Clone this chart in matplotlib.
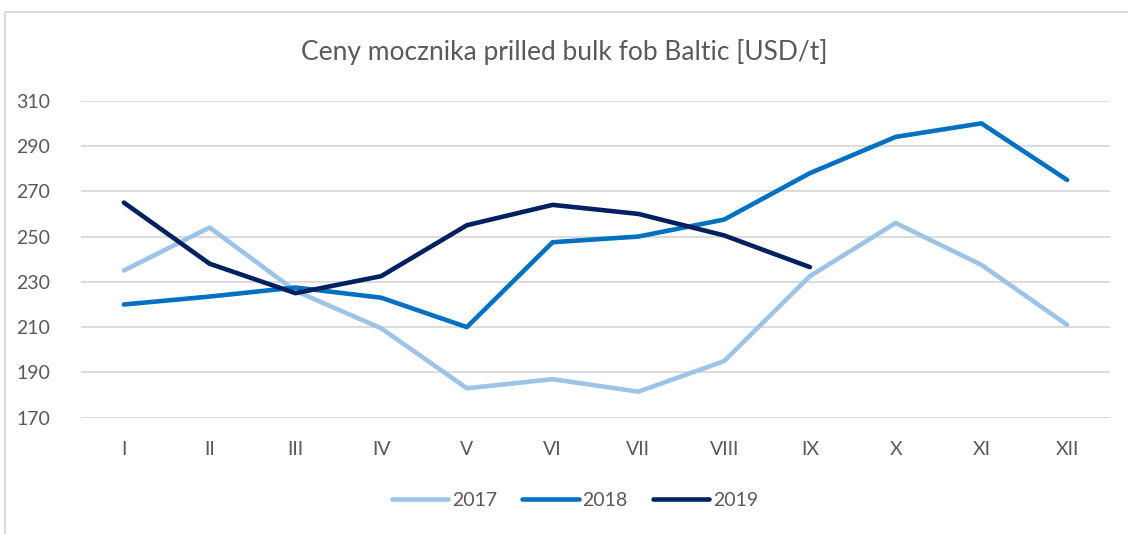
import numpy as np
import matplotlib.pyplot as plt
from matplotlib.lines import Line2D

plt.rcParams['font.family'] = ['Lato', 'DejaVu Sans']

months = ["I", "II", "III", "IV", "V", "VI", "VII", "VIII", "IX", "X", "XI", "XII"]
y2017 = [235, 254, 226, 209.5, 183, 187, 181.5, 195, 232.5, 256, 237.5, 211]
y2018 = [220, 223.5, 227.5, 223, 210, 247.5, 250, 257.5, 278, 294, 300, 275]
y2019 = [265, 238, 225, 232.5, 255, 264, 260, 250.5, 236.5]
yticks = [170, 190, 210, 230, 250, 270, 290, 310]

txt = "#595959"

fig = plt.figure(figsize=(11.28, 5.34), dpi=100)
ax = fig.add_axes([81/1128, 1-417.7/534, (1110-81)/1128, (417.7-100.7)/534])

x = np.arange(len(months))
ax.plot(x, y2017, color="#9DC3E6", lw=3.3, solid_capstyle="round", solid_joinstyle="round", label="2017")
ax.plot(x, y2018, color="#0070C0", lw=3.3, solid_capstyle="round", solid_joinstyle="round", label="2018")
ax.plot(np.arange(len(y2019)), y2019, color="#002060", lw=3.3, solid_capstyle="round", solid_joinstyle="round", label="2019")

ax.set_xlim(-0.5, 11.5)
ax.set_ylim(170, 310)
ax.set_yticks(yticks)
ax.set_xticks(x)
ax.set_xticklabels(months)
ax.grid(axis="y", color="#D9D9D9", lw=1.3)
ax.set_axisbelow(True)
for s in ax.spines.values():
    s.set_visible(False)
ax.tick_params(length=0, labelsize=14, colors=txt)
ax.tick_params(axis="y", pad=22)
ax.tick_params(axis="x", pad=17)

fig.text(0.5, 1-52/534, "Ceny mocznika prilled bulk fob Baltic [USD/t]", ha="center", va="center",
         fontsize=19, color=txt)

leg = fig.legend(loc="center", bbox_to_anchor=(575/1128, 1-500/534), ncol=3, frameon=False,
                 fontsize=14, handlelength=2.9, handletextpad=0.2, columnspacing=1.3)
for t in leg.get_texts():
    t.set_color(txt)

# chart frame
fig.add_artist(Line2D([5/1128, 5/1128], [0, 1-12/534], transform=fig.transFigure, color="#D9D9D9", lw=1.5))
fig.add_artist(Line2D([5/1128, 1], [1-12/534, 1-12/534], transform=fig.transFigure, color="#D9D9D9", lw=1.5))

fig.savefig("out.png", dpi=100)
